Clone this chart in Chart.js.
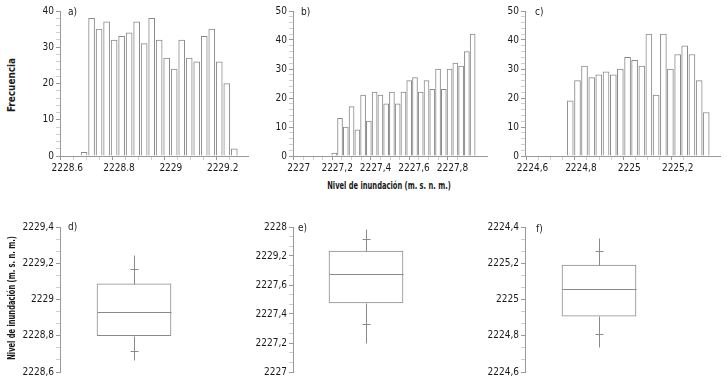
<!DOCTYPE html>
<html lang="es">
<head>
<meta charset="UTF-8">
<title>Nivel de inundación</title>
<script src="https://cdn.jsdelivr.net/npm/chart.js"></script>
<style>
  body { margin: 0; background: #fff; width: 727px; height: 385px; position: relative; overflow: hidden;
         font-family: 'Liberation Sans Narrow', 'DejaVu Sans Condensed', sans-serif; color: #1a1a1a; }
  .box { position: absolute; }
  .lbl { position: absolute; font-size: 10px; line-height: 10px; }
  .ttl { position: absolute; font-size: 11px; font-weight: bold; white-space: nowrap; line-height: 12px; }
  .rot { transform: translate(-50%, -50%) rotate(-90deg) scaleX(0.68); }
  .rot2 { transform: translate(-50%, -50%) rotate(-90deg) scaleX(0.9); }
  .hor { transform: translate(-50%, -50%) scaleX(0.68); }
</style>
</head>
<body>
<div class="box" style="left:20px;top:0;width:232px;height:175px"><canvas id="ca"></canvas></div>
<div class="box" style="left:253px;top:0;width:238px;height:175px"><canvas id="cb"></canvas></div>
<div class="box" style="left:485px;top:0;width:239px;height:175px"><canvas id="cc"></canvas></div>
<div class="box" style="left:10px;top:215px;width:210px;height:167px"><canvas id="cd"></canvas></div>
<div class="box" style="left:243px;top:215px;width:200px;height:167px"><canvas id="ce"></canvas></div>
<div class="box" style="left:475px;top:215px;width:202px;height:167px"><canvas id="cf"></canvas></div>

<div class="ttl rot2" style="left:12px;top:85px">Frecuencia</div>
<div class="ttl hor" style="left:389px;top:186px">Nivel de inundación (m. s. n. m.)</div>
<div class="ttl rot" style="left:12px;top:298px">Nivel de inundación (m. s. n. m.)</div>
<div class="lbl" style="left:68px;top:7px">a)</div>
<div class="lbl" style="left:301px;top:7px">b)</div>
<div class="lbl" style="left:535px;top:7px">c)</div>
<div class="lbl" style="left:68px;top:222px">d)</div>
<div class="lbl" style="left:298px;top:223px">e)</div>
<div class="lbl" style="left:536px;top:224px">f)</div>

<script>
// histogram a)
const aBins = [2228.665, 2228.694, 2228.723, 2228.752, 2228.781, 2228.810, 2228.839, 2228.868, 2228.897, 2228.926,
               2228.955, 2228.984, 2229.013, 2229.042, 2229.071, 2229.100, 2229.129, 2229.158, 2229.187, 2229.216, 2229.245];
const aFreq = [1, 38, 35, 37, 32, 33, 34, 37, 31, 38, 32, 27, 24, 32, 27, 26, 33, 35, 26, 20, 2];
const aXTicks = [2228.6, 2228.8, 2229, 2229.2];
const aXLabels = ['2228.6', '2228.8', '2229', '2229.2'];
const aYTicks = [0, 10, 20, 30, 40];

// histogram b)
const bBins = [2227.185, 2227.215, 2227.245, 2227.275, 2227.305, 2227.335, 2227.365, 2227.395, 2227.425, 2227.455,
               2227.485, 2227.515, 2227.545, 2227.575, 2227.605, 2227.635, 2227.665, 2227.695, 2227.725, 2227.755,
               2227.785, 2227.815, 2227.845, 2227.875, 2227.905];
const bFreq = [1, 13, 10, 17, 9, 21, 12, 22, 21, 18, 22, 18, 22, 26, 27, 22, 26, 23, 30, 23, 30, 32, 31, 36, 42];
const bXTicks = [2227, 2227.2, 2227.4, 2227.6, 2227.8];
const bXLabels = ['2227', '2227,2', '2227,4', '2227,6', '2227,8'];
const bYTicks = [0, 10, 20, 30, 40, 50];

// histogram c)
const cBins = [2224.756, 2224.786, 2224.815, 2224.845, 2224.874, 2224.904, 2224.934, 2224.963, 2224.993, 2225.022,
               2225.052, 2225.081, 2225.111, 2225.141, 2225.170, 2225.200, 2225.229, 2225.259, 2225.289, 2225.318];
const cFreq = [19, 26, 31, 27, 28, 29, 28, 30, 34, 33, 31, 42, 21, 42, 30, 35, 38, 35, 26, 15];
const cXTicks = [2224.6, 2224.8, 2225, 2225.2];
const cXLabels = ['2224,6', '2224,8', '2225', '2225,2'];
const cYTicks = [0, 10, 20, 30, 40, 50];

// box plots: [min, low mark, q1, median, q3, high mark, max]
const dBox = [2228.667, 2228.717, 2228.800, 2228.932, 2229.086, 2229.169, 2229.246];
const dTicks = [2228.6, 2228.8, 2229, 2229.2, 2229.4];
const dLabels = ['2228,6', '2228,8', '2229', '2229,2', '2229,4'];

const eBox = [2227.200, 2227.331, 2227.476, 2227.676, 2227.834, 2227.917, 2227.986];
const eTicks = [2227, 2227.2, 2227.4, 2227.6, 2227.8, 2228];
const eLabels = ['2227', '2227,2', '2227,4', '2227,6', '2229,2', '2228'];

const fBox = [2224.737, 2224.809, 2224.908, 2225.057, 2225.190, 2225.267, 2225.339];
const fTicks = [2224.6, 2224.8, 2225, 2225.2, 2225.4];
const fLabels = ['2224,6', '2224,8', '2225', '2225,2', '2224,4'];

const FONT = "'Liberation Sans Narrow', 'DejaVu Sans Condensed', sans-serif";
const AXIS = '#9a9a9a';
const BAR = '#8a8a8a';

// majors plus evenly spaced minor marks between them
function withMinor(majors, sub) {
  const out = [];
  for (let i = 0; i < majors.length; i++) {
    out.push(majors[i]);
    if (i < majors.length - 1) {
      const step = (majors[i + 1] - majors[i]) / sub;
      for (let k = 1; k < sub; k++) out.push(majors[i] + step * k);
    }
  }
  return out;
}

function axis(majors, labels, sub, fixed) {
  return {
    min: majors[0],
    max: majors[majors.length - 1],
    afterBuildTicks: s => { s.ticks = withMinor(majors, sub).map(v => ({ value: v })); },
    afterFit: fixed,
    grid: {
      drawOnChartArea: false, drawTicks: true, tickLength: 4,
      tickColor: c => (c.tick && c.tick.label !== '') ? AXIS : '#cfcfcf'
    },
    border: { display: true, color: AXIS },
    ticks: {
      autoSkip: false, maxRotation: 0, padding: 2, color: '#1a1a1a',
      font: { family: FONT, size: 10 },
      callback: v => {
        const i = majors.findIndex(m => Math.abs(m - v) < 1e-6);
        return i >= 0 ? (labels ? labels[i] : String(majors[i])) : '';
      }
    }
  };
}

function histogram(id, bins, freq, xTicks, xLabels, xMax, yTicks, thick) {
  const x = axis(xTicks, xLabels, 4, s => { s.height = 19; });
  x.type = 'linear';
  x.max = xMax;
  const y = axis(yTicks, null, 5, s => { s.width = 40; });
  new Chart(document.getElementById(id), {
    type: 'bar',
    data: {
      datasets: [{
        data: bins.map((b, i) => ({ x: b, y: freq[i] })),
        backgroundColor: '#ffffff',
        borderColor: BAR,
        borderWidth: 1,
        borderSkipped: 'bottom',
        barThickness: thick
      }]
    },
    options: {
      responsive: true, maintainAspectRatio: false, animation: false,
      layout: { padding: { top: 11, right: 4, left: 0, bottom: 0 } },
      plugins: { legend: { display: false }, tooltip: { enabled: false } },
      scales: { x: x, y: y }
    }
  });
}

const boxPlugin = {
  id: 'boxPlugin',
  afterDatasetsDraw(chart, args, opts) {
    const b = opts.stats;
    if (!b) return;
    const ys = chart.scales.y;
    const py = v => Math.round(ys.getPixelForValue(v)) + 0.5;
    const bar = chart.getDatasetMeta(0).data[0];
    const x = Math.round(bar.x) + 0.5;
    const hw = bar.width / 2;
    const ctx = chart.ctx;
    ctx.save();
    ctx.strokeStyle = BAR;
    ctx.lineWidth = 1;
    ctx.beginPath();
    ctx.moveTo(x - hw, py(b[3])); ctx.lineTo(x + hw, py(b[3]));
    ctx.moveTo(x, py(b[4])); ctx.lineTo(x, py(b[6]));
    ctx.moveTo(x, py(b[2])); ctx.lineTo(x, py(b[0]));
    ctx.moveTo(x - 4, py(b[5])); ctx.lineTo(x + 4, py(b[5]));
    ctx.moveTo(x - 4, py(b[1])); ctx.lineTo(x + 4, py(b[1]));
    ctx.stroke();
    ctx.restore();
  }
};

function boxplot(id, box, ticks, labels, padRight) {
  const y = axis(ticks, labels, 3, s => { s.width = 50; });
  new Chart(document.getElementById(id), {
    type: 'bar',
    data: {
      labels: [''],
      datasets: [{
        data: [[box[2], box[4]]],
        backgroundColor: '#ffffff',
        borderColor: BAR,
        borderWidth: 1,
        borderSkipped: false,
        barThickness: 74
      }]
    },
    options: {
      responsive: true, maintainAspectRatio: false, animation: false,
      layout: { padding: { top: 12, right: padRight, left: 0, bottom: 10 } },
      plugins: { legend: { display: false }, tooltip: { enabled: false }, boxPlugin: { stats: box } },
      scales: { x: { display: false }, y: y }
    },
    plugins: [boxPlugin]
  });
}

histogram('ca', aBins, aFreq, aXTicks, aXLabels, 2229.27, aYTicks, 6);
histogram('cb', bBins, bFreq, bXTicks, bXLabels, 2227.95, bYTicks, 5);
histogram('cc', cBins, cFreq, cXTicks, cXLabels, 2225.344, cYTicks, 6);
boxplot('cd', dBox, dTicks, dLabels, 12);
boxplot('ce', eBox, eTicks, eLabels, 4);
boxplot('cf', fBox, fTicks, fLabels, 4);
</script>
</body>
</html>
